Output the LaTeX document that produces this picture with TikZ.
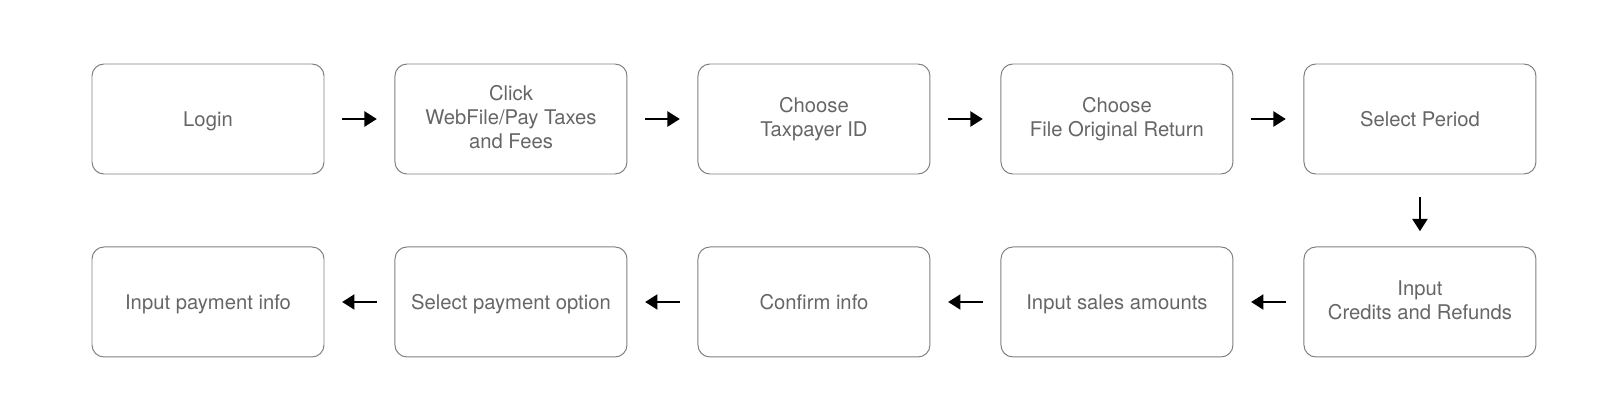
\documentclass[tikz,border=0pt]{standalone}
\usepackage{fontspec}
\setmainfont{TeX Gyre Heros}
\usetikzlibrary{positioning,arrows.meta}
\definecolor{boxline}{HTML}{7F7F7F}
\definecolor{boxtext}{HTML}{666666}
\newcommand{\boxstrut}{\rule[-3pt]{0pt}{17pt}}
\begin{document}
\begin{tikzpicture}[
        stepbox/.style={draw=boxline, line width=0.7pt, rounded corners=0.3cm,
            minimum width=5.8cm, minimum height=2.75cm, inner sep=0pt,
            align=center, text=boxtext, font=\fontsize{14.4}{16.9}\selectfont,
            execute at begin node=\boxstrut, execute at end node=\boxstrut},
        flow/.style={-{Triangle[length=0.31cm,width=0.37cm]}, line width=2pt,
            shorten <=0.44cm, shorten >=0.44cm},
        downflow/.style={flow, shorten <=0.57cm, shorten >=0.38cm}
    ]
        % Cornice
        \useasboundingbox (0,0) rectangle (40.575,-10.45);

        % Prima riga
        \node[stepbox] (login) at (5.2,-2.975) {Login};
        \node[stepbox, right=1.75cm of login] (click) {Click\\WebFile/Pay Taxes\\and Fees};
        \node[stepbox, right=1.75cm of click] (payer) {Choose\\Taxpayer ID};
        \node[stepbox, right=1.75cm of payer] (original) {Choose\\File Original Return};
        \node[stepbox, right=1.75cm of original] (period) {Select Period};

        % Seconda riga
        \node[stepbox, below=1.8cm of period] (credits) {Input\\Credits and Refunds};
        \node[stepbox, left=1.75cm of credits] (sales) {Input sales amounts};
        \node[stepbox, left=1.75cm of sales] (confirm) {Confirm info};
        \node[stepbox, left=1.75cm of confirm] (option) {Select payment option};
        \node[stepbox, left=1.75cm of option] (payment) {Input payment info};

        % Frecce
        \draw[flow] (login) -- (click);
        \draw[flow] (click) -- (payer);
        \draw[flow] (payer) -- (original);
        \draw[flow] (original) -- (period);
        \draw[downflow] (period) -- (credits);
        \draw[flow] (credits) -- (sales);
        \draw[flow] (sales) -- (confirm);
        \draw[flow] (confirm) -- (option);
        \draw[flow] (option) -- (payment);

    \end{tikzpicture}
\end{document}
